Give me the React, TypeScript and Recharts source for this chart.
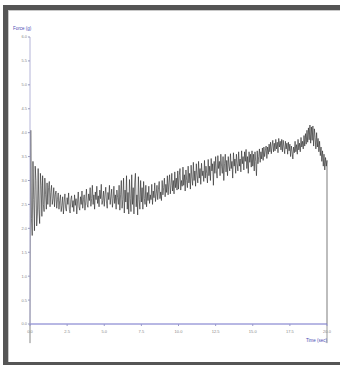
import React from 'react';
import { LineChart, Line, XAxis, YAxis, ReferenceLine } from 'recharts';

// sampling interval of the recorded trace (seconds)
const SAMPLE_STEP = 0.05;

// Force (g) readings, one every SAMPLE_STEP seconds from 0.00 to 20.00 s
const force: number[] = [
  0, 4.05, 2.2, 1.85, 3.4, 2.6, 1.95, 3.3, 3.0, 2.05,
  2.3, 3.25, 2.4, 2.1, 3.15, 2.9, 2.25, 3.1, 2.5, 2.35,
  3.05, 2.7, 2.4, 2.95, 2.5, 2.85, 2.98, 2.45, 2.75, 2.9,
  2.5, 2.62, 2.85, 2.45, 2.7, 2.78, 2.42, 2.6, 2.74, 2.4,
  2.58, 2.7, 2.35, 2.48, 2.66, 2.3, 2.55, 2.72, 2.42, 2.36,
  2.64, 2.5, 2.74, 2.4, 2.32, 2.6, 2.68, 2.44, 2.58, 2.35,
  2.7, 2.48, 2.62, 2.3, 2.55, 2.76, 2.45, 2.38, 2.66, 2.5,
  2.78, 2.42, 2.6, 2.7, 2.38, 2.55, 2.82, 2.5, 2.44, 2.72,
  2.58, 2.85, 2.46, 2.62, 2.9, 2.5, 2.7, 2.4, 2.76, 2.6,
  2.88, 2.52, 2.68, 2.45, 2.8, 2.62, 2.92, 2.5, 2.58, 2.78,
  2.46, 2.7, 2.86, 2.55, 2.42, 2.75, 2.6, 2.9, 2.5, 2.66,
  2.82, 2.44, 2.62, 2.88, 2.52, 2.7, 2.4, 2.8, 2.64, 2.5,
  2.9, 2.38, 2.7, 3.0, 2.42, 2.6, 3.05, 2.32, 2.8, 2.55,
  3.1, 2.4, 2.75, 2.3, 3.02, 2.62, 2.35, 3.12, 2.5, 2.85,
  2.3, 2.95, 3.15, 2.45, 2.7, 2.28, 3.08, 2.6, 2.4, 3.0,
  2.55, 2.85, 2.4, 2.98, 2.62, 2.5, 2.9, 2.45, 2.75, 2.58,
  2.88, 2.52, 2.7, 2.6, 2.92, 2.5, 2.78, 2.64, 2.95, 2.56,
  2.72, 2.9, 2.6, 2.82, 2.98, 2.62, 2.76, 2.58, 3.0, 2.7,
  2.85, 3.05, 2.66, 2.92, 2.75, 3.1, 2.7, 2.95, 3.12, 2.72,
  2.9, 3.15, 2.78, 3.0, 2.72, 3.18, 2.85, 3.05, 2.8, 3.2,
  2.82, 3.1, 3.25, 2.8, 3.0, 2.88, 3.28, 2.9, 3.12, 2.78,
  3.22, 3.0, 2.85, 3.3, 2.95, 3.15, 2.82, 3.32, 3.05, 2.9,
  3.38, 3.0, 3.2, 2.88, 3.35, 3.1, 2.95, 3.4, 3.05, 3.25,
  2.92, 3.36, 3.1, 3.2, 2.98, 3.42, 3.05, 3.3, 3.15, 2.95,
  3.44, 3.1, 3.3, 3.0, 3.46, 3.2, 3.35, 2.9, 3.4, 3.15,
  3.5, 3.2, 3.05, 3.52, 3.25, 3.4, 3.1, 3.55, 3.3, 3.15,
  3.5, 3.0, 3.35, 3.55, 3.18, 3.42, 3.1, 3.5, 3.3, 3.2,
  3.56, 3.25, 3.4, 3.05, 3.58, 3.3, 3.45, 3.15, 3.55, 3.35,
  3.2, 3.6, 3.3, 3.45, 3.18, 3.62, 3.35, 3.5, 3.22, 3.6,
  3.4, 3.65, 3.25, 3.5, 3.15, 3.6, 3.38, 3.55, 3.28, 3.62,
  3.3, 3.55, 3.2, 3.6, 3.4, 3.1, 3.62, 3.35, 3.5, 3.66,
  3.38, 3.6, 3.45, 3.68, 3.42, 3.7, 3.5, 3.62, 3.72, 3.46,
  3.7, 3.55, 3.76, 3.6, 3.8, 3.56, 3.72, 3.84, 3.6, 3.78,
  3.62, 3.86, 3.66, 3.8, 3.58, 3.88, 3.7, 3.82, 3.64, 3.86,
  3.6, 3.84, 3.7, 3.56, 3.82, 3.66, 3.78, 3.55, 3.8, 3.62,
  3.76, 3.5, 3.72, 3.6, 3.45, 3.7, 3.58, 3.82, 3.6, 3.75,
  3.55, 3.86, 3.64, 3.78, 3.6, 3.9, 3.7, 3.82, 3.66, 3.94,
  3.72, 3.98, 3.76, 4.05, 3.8, 4.1, 3.85, 4.16, 3.78, 4.12,
  3.84, 4.14, 3.72, 4.08, 3.9, 3.66, 4.0, 3.7, 3.88, 3.6,
  3.82, 3.52, 3.7, 3.4, 3.62, 3.3, 3.55, 3.22, 3.48, 3.3,
  3.42,
];

// final release of the load at the end of the run
const releaseTime = 20.0;
const releaseForce = 0;
// trace runs slightly below zero at both ends
const belowZero = -0.4;
const traceStart = 0;

const xTicks = [0, 2.5, 5, 7.5, 10, 12.5, 15, 17.5, 20];
const yTicks = [0, 0.5, 1, 1.5, 2, 2.5, 3, 3.5, 4, 4.5, 5, 5.5, 6];

const data = [
  ...force.map((f, i) => ({ t: Math.round(i * SAMPLE_STEP * 100) / 100, f })),
  { t: releaseTime, f: releaseForce },
];

const FONT = '"Liberation Sans Narrow", "Liberation Sans", Arial, sans-serif';
const fmt = (v: number) => v.toFixed(1);

export default function App() {
  return (
    <div
      style={{
        position: 'fixed',
        left: 0,
        top: 0,
        width: 340,
        height: 365,
        background: '#fff',
        overflow: 'hidden',
      }}
    >
      <div
        style={{
          position: 'absolute',
          left: 3,
          top: 5,
          width: 345,
          height: 362,
          boxSizing: 'border-box',
          borderTop: '5px solid #555',
          borderLeft: '5px solid #555',
          borderBottom: '5px solid #555',
          borderRight: 'none',
        }}
      >
        <div
          style={{
            position: 'absolute',
            left: 0,
            top: 0,
            right: 0,
            bottom: 0,
            borderTop: '1px solid #c8c8c8',
            borderLeft: '1px solid #c8c8c8',
          }}
        />
      </div>
      <div style={{ position: 'absolute', left: 0, top: 0 }}>
        <LineChart
          width={340}
          height={365}
          data={data}
          margin={{ top: 37, right: 13, bottom: 21, left: 10 }}
        >
          <XAxis
            type="number"
            dataKey="t"
            domain={[0, 20]}
            ticks={xTicks}
            tickFormatter={fmt}
            height={20}
            stroke="#7777cc"
            axisLine={{ stroke: '#7070c8', strokeWidth: 1 }}
            tickLine={{ stroke: '#9999cc' }}
            tickSize={2}
            tickMargin={4}
            tick={{ fill: '#888', fontSize: 4, fontFamily: FONT }}
            interval={0}
          />
          <YAxis
            type="number"
            domain={[0, 6]}
            ticks={yTicks}
            tickFormatter={fmt}
            width={20}
            axisLine={{ stroke: '#b4b4d8', strokeWidth: 1 }}
            tickLine={{ stroke: '#9999bb' }}
            tickSize={2}
            tickMargin={1}
            tick={{ fill: '#888', fontSize: 4, fontFamily: FONT }}
            interval={0}
          />
          <ReferenceLine
            segment={[
              { x: traceStart, y: 0 },
              { x: traceStart, y: belowZero },
            ]}
            ifOverflow="visible"
            stroke="#888"
            strokeWidth={1}
          />
          <ReferenceLine
            segment={[
              { x: releaseTime, y: 0 },
              { x: releaseTime, y: belowZero },
            ]}
            ifOverflow="visible"
            stroke="#999"
            strokeWidth={1}
          />
          <Line
            type="linear"
            dataKey="f"
            stroke="#222"
            strokeWidth={0.6}
            dot={false}
            activeDot={false}
            isAnimationActive={false}
          />
        </LineChart>
      </div>
      <div
        style={{
          position: 'absolute',
          left: 13,
          top: 26,
          fontFamily: FONT,
          fontSize: 4.5,
          lineHeight: '5px',
          color: '#4b4bb4',
          whiteSpace: 'nowrap',
        }}
      >
        Force (g)
      </div>
      <div
        style={{
          position: 'absolute',
          right: 13,
          top: 338,
          fontFamily: FONT,
          fontSize: 4.5,
          lineHeight: '5px',
          color: '#4b4bb4',
          whiteSpace: 'nowrap',
        }}
      >
        Time (sec)
      </div>
    </div>
  );
}
